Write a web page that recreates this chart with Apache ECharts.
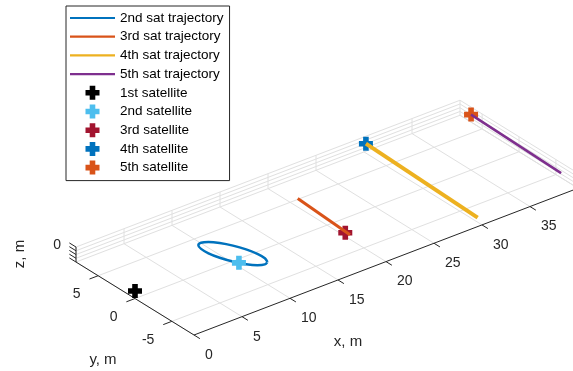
<!DOCTYPE html>
<html>
<head>
<meta charset="utf-8">
<script src="https://cdn.jsdelivr.net/npm/echarts@6/dist/echarts.min.js"></script>
<style>
  html, body { margin: 0; padding: 0; background: #fff; }
  #chart { width: 573px; height: 371px; }
</style>
</head>
<body>
<div id="chart"></div>
<script>
// axis limits and ticks, metres
const xLim = [0, 40], yLim = [-8, 8], zLim = [-1, 1];
const xTicks = [0, 5, 10, 15, 20, 25, 30, 35, 40];
const xTickLabels = ['0', '5', '10', '15', '20', '25', '30', '35', '40'];
const yTicks = [-5, 0, 5];
const yTickLabels = ['-5', '0', '5'];
const zTicks = [-1, -0.5, 0, 0.5, 1];
const zTickLabels = ['', '', '0', '', ''];

// trajectories (z = 0 everywhere)
const traj2X = [11.55, 11.13, 10.57, 9.95, 9.37, 8.92, 8.66, 8.64, 8.85, 9.27, 9.83, 10.45, 11.03, 11.48, 11.74, 11.77, 11.55];
const traj2Y = [-2.93, -3.12, -2.84, -2.12, -1.08, 0.12, 1.31, 2.29, 2.93, 3.12, 2.84, 2.12, 1.08, -0.12, -1.31, -2.29, -2.93];
const traj3X = [20.1, 19.7];
const traj3Y = [4.1, -3.5];
const traj4X = [30.2, 29.7];
const traj4Y = [8.0, -7.8];
const traj5X = [40.0, 39.7];
const traj5Y = [6.5, -6.1];

const trajNames = ['2nd sat trajectory', '3rd sat trajectory', '4th sat trajectory', '5th sat trajectory'];
const trajColors = ['#0072BD', '#D95319', '#EDB120', '#7E2F8E'];
const trajWidths = [2.5, 3, 4, 2.5];

// satellite positions
const satNames = ['1st satellite', '2nd satellite', '3rd satellite', '4th satellite', '5th satellite'];
const satX = [0, 9.62, 19.6, 30.2, 40.0];
const satY = [0, -1.57, -3.0, 8.0, 6.5];
const satZ = [0, 0, 0, 0, 0];
const satColors = ['#000000', '#4DBEEE', '#A2142F', '#0072BD', '#D95319'];

// fixed 3d view: screen position of the (xmin, ymin, zmin) corner and unit steps
const O = [194, 335];
const EX = [9.6, -3.67], EY = [-7.375, -4.56], EZ = [0, -7.5];
function proj(x, y, z) {
  const dx = x - xLim[0], dy = y - yLim[0], dz = z - zLim[0];
  return [O[0] + dx * EX[0] + dy * EY[0] + dz * EZ[0],
          O[1] + dx * EX[1] + dy * EY[1] + dz * EZ[1]];
}
function seg(a, b) { return proj(...a).concat(proj(...b)); }

const gridSegs = [];
const axisSegs = [];
xTicks.forEach(t => {
  gridSegs.push(seg([t, yLim[0], zLim[0]], [t, yLim[1], zLim[0]]));
  gridSegs.push(seg([t, yLim[1], zLim[0]], [t, yLim[1], zLim[1]]));
  axisSegs.push(seg([t, yLim[0], zLim[0]], [t, yLim[0] - 0.8, zLim[0]]));
});
yTicks.forEach(t => {
  gridSegs.push(seg([xLim[0], t, zLim[0]], [xLim[1], t, zLim[0]]));
  gridSegs.push(seg([xLim[1], t, zLim[0]], [xLim[1], t, zLim[1]]));
  axisSegs.push(seg([xLim[0], t, zLim[0]], [xLim[0] - 0.9, t, zLim[0]]));
});
zTicks.forEach(t => {
  gridSegs.push(seg([xLim[0], yLim[1], t], [xLim[1], yLim[1], t]));
  gridSegs.push(seg([xLim[1], yLim[0], t], [xLim[1], yLim[1], t]));
  axisSegs.push(seg([xLim[0], yLim[1], t], [xLim[0], yLim[1] + 0.9, t]));
});
axisSegs.push(seg([xLim[0], yLim[0], zLim[0]], [xLim[1], yLim[0], zLim[0]]));
axisSegs.push(seg([xLim[0], yLim[0], zLim[0]], [xLim[0], yLim[1], zLim[0]]));
axisSegs.push(seg([xLim[0], yLim[1], zLim[0]], [xLim[0], yLim[1], zLim[1]]));

const tickText = [];
xTicks.forEach((t, i) => tickText.push({ p: proj(t, yLim[0], zLim[0]), s: xTickLabels[i], dx: 11, dy: 20, align: 'left' }));
yTicks.forEach((t, i) => tickText.push({ p: proj(xLim[0], t, zLim[0]), s: yTickLabels[i], dx: -17.5, dy: 18.5, align: 'right' }));
zTicks.forEach((t, i) => tickText.push({ p: proj(xLim[0], yLim[1], t), s: zTickLabels[i], dx: -15, dy: -9.5, align: 'right' }));

const FONT = 'Liberation Sans, Arial, sans-serif';

function segSeries(segs, color, width, z) {
  return {
    type: 'custom', coordinateSystem: 'cartesian2d', silent: true, z: z,
    data: segs,
    renderItem: function (params, api) {
      const a = api.coord([api.value(0), api.value(1)]);
      const b = api.coord([api.value(2), api.value(3)]);
      return { type: 'line', shape: { x1: a[0], y1: a[1], x2: b[0], y2: b[1] },
               style: { stroke: color, lineWidth: width } };
    }
  };
}

const trajXs = [traj2X, traj3X, traj4X, traj5X];
const trajYs = [traj2Y, traj3Y, traj4Y, traj5Y];

const series = [
  segSeries(gridSegs, '#e0e0e0', 1, 1),
  segSeries(axisSegs, '#262626', 1, 2),
  {
    type: 'custom', coordinateSystem: 'cartesian2d', silent: true, z: 2,
    data: tickText.map(d => d.p),
    renderItem: function (params, api) {
      const d = tickText[params.dataIndex];
      const a = api.coord([api.value(0), api.value(1)]);
      return { type: 'text', x: a[0] + d.dx, y: a[1] + d.dy,
               style: { text: d.s, align: d.align, verticalAlign: 'middle',
                        fontSize: 14, fontFamily: FONT, fill: '#262626' } };
    }
  }
];

trajNames.forEach((name, i) => {
  series.push({
    name: name, type: 'line', z: 4, symbol: 'none', showSymbol: false,
    smooth: i === 0 ? 0.3 : false,
    lineStyle: { color: trajColors[i], width: trajWidths[i] },
    itemStyle: { color: trajColors[i] },
    data: trajXs[i].map((x, k) => proj(x, trajYs[i][k], 0))
  });
});

const CROSS = 'path://M3,0H7V3H10V7H7V10H3V7H0V3H3Z';
const LINE_ICON = 'path://M0,0H45V2.2H0Z';
satNames.forEach((name, i) => {
  series.push({
    name: name, type: 'scatter', z: i === 1 ? 5 : 3, symbol: CROSS, symbolSize: 14,
    itemStyle: { color: satColors[i], opacity: 1 },
    data: [proj(satX[i], satY[i], satZ[i])]
  });
});

const chart = echarts.init(document.getElementById('chart'), null, { renderer: 'canvas' });
chart.setOption({
  animation: false,
  backgroundColor: '#fff',
  grid: { left: 0, right: 0, top: 0, bottom: 0 },
  xAxis: { type: 'value', min: 0, max: 573, show: false },
  yAxis: { type: 'value', min: 0, max: 371, inverse: true, show: false },
  legend: {
    orient: 'vertical', left: 66, top: 6, padding: [5, 6, 6, 4],
    itemWidth: 45, itemHeight: 14, itemGap: 4.7,
    borderColor: '#262626', borderWidth: 1, backgroundColor: '#fff',
    selectedMode: false, z: 10,
    textStyle: { fontSize: 13.5, color: '#000', fontFamily: FONT },
    data: trajNames.map(n => ({ name: n, icon: LINE_ICON })).concat(satNames.map(n => ({ name: n, icon: CROSS })))
  },
  graphic: [
    { type: 'text', x: 348, y: 342, style: { text: 'x, m', align: 'center', verticalAlign: 'middle', fontSize: 15, fontFamily: FONT, fill: '#262626' } },
    { type: 'text', x: 103, y: 360, style: { text: 'y, m', align: 'center', verticalAlign: 'middle', fontSize: 15, fontFamily: FONT, fill: '#262626' } },
    { type: 'text', x: 20, y: 254, rotation: Math.PI / 2, style: { text: 'z, m', align: 'center', verticalAlign: 'middle', fontSize: 15, fontFamily: FONT, fill: '#262626' } }
  ],
  series: series
});
</script>
</body>
</html>
